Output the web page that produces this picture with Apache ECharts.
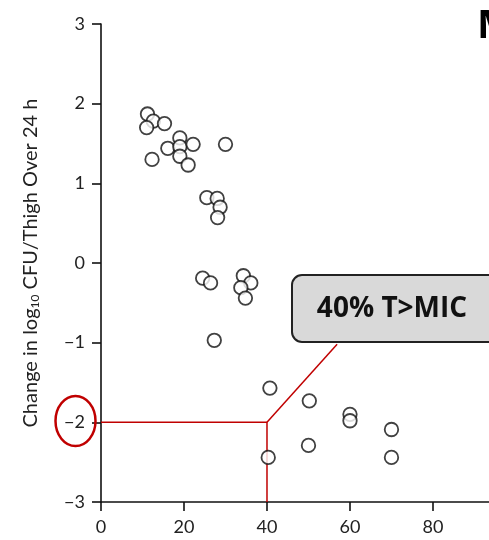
<!DOCTYPE html>
<html><head><meta charset="utf-8">
<script src="https://cdn.jsdelivr.net/npm/echarts@6/dist/echarts.min.js"></script>
<style>html,body{margin:0;padding:0;background:#fff}#c{width:489px;height:540px}</style>
</head><body><div id="c"></div>
<script>
// %T>MIC (x) and change in log10 CFU/thigh over 24 h (y)
var tmic = [11.2,12.6,11.0,15.3,19.0,16.1,19.0,22.2,19.0,21.0,12.3,30.0,25.5,28.0,28.7,28.1,24.5,26.4,34.3,36.1,33.7,34.8,27.3,40.7,50.2,60,60,70,50,40.3,70];
var change = [1.87,1.78,1.70,1.75,1.57,1.44,1.46,1.49,1.34,1.23,1.30,1.49,0.82,0.81,0.70,0.57,-0.19,-0.25,-0.16,-0.25,-0.31,-0.44,-0.97,-1.57,-1.73,-1.90,-1.98,-2.09,-2.29,-2.44,-2.44];
var xTicks = [0,20,40,60,80];
var yTicks = [-3,-2,-1,0,1,2,3];
// annotation: 40% T>MIC -> -2 log kill
var guideX = [0,40,40];
var guideY = [-2,-2,-3];
var leaderX = [40,56.9];
var leaderY = [-2,-1.02];
var boxLabel = '40% T>MIC';
var yTitle = 'Change in log{s|10} CFU/Thigh Over 24 h';

function pairs(a,b){return a.map(function(v,i){return [v,b[i]];});}
var chart = echarts.init(document.getElementById('c'));
var red = '#c00000';
var fontF = 'Lato';
chart.setOption({
  backgroundColor:'#fff',
  animation:false,
  grid:{left:101,top:24,bottom:38,right:0},
  xAxis:{type:'value',min:0,max:93.5,interval:20,
    axisLine:{onZero:false,lineStyle:{color:'#111',width:1.6}},
    axisTick:{length:9,lineStyle:{color:'#111',width:1.6}},
    axisLabel:{fontFamily:fontF,fontSize:18,color:'#222',margin:16,showMaxLabel:false,
      formatter:function(v){return xTicks.indexOf(v)>=0?String(v):'';}},
    splitLine:{show:false}},
  yAxis:{type:'value',min:-3,max:3,interval:1,
    axisLine:{show:true,onZero:false,lineStyle:{color:'#111',width:1.6}},
    axisTick:{show:true,length:9,lineStyle:{color:'#111',width:1.6}},
    axisLabel:{fontFamily:fontF,fontSize:18,color:'#222',margin:16,
      formatter:function(v){return yTicks.indexOf(v)>=0?String(v).replace('-','\u2212'):'';}},
    splitLine:{show:false},
    name:yTitle,nameLocation:'middle',nameRotate:90,nameGap:60,
    nameTextStyle:{fontFamily:fontF,fontSize:20,color:'#222',
      rich:{s:{fontFamily:fontF,fontSize:12,color:'#222',verticalAlign:'bottom',padding:[8,0,0,0]}}}},
  series:[
    {type:'line',data:pairs(guideX,guideY),symbol:'none',lineStyle:{color:red,width:1.5},z:1,silent:true},
    {type:'line',data:pairs(leaderX,leaderY),symbol:'none',lineStyle:{color:red,width:1.5},z:1,silent:true},
    {type:'scatter',data:pairs(tmic,change),symbol:'circle',symbolSize:13.5,
      itemStyle:{color:'#fff',borderColor:'#111',borderWidth:1.8},z:3}
  ],
  graphic:[
    {type:'rect',shape:{x:292,y:275,width:215,height:67,r:10},
      style:{fill:'#d9d9d9',stroke:'#222',lineWidth:2},z:10},
    {type:'text',x:392,y:309,style:{text:boxLabel,fontFamily:'Open Sans',fontWeight:'bold',fontSize:28,
      fill:'#111',textAlign:'center',textVerticalAlign:'middle'},z:11},
    {type:'ellipse',shape:{cx:75.5,cy:421,rx:20,ry:25},
      style:{fill:'none',stroke:red,lineWidth:2.5},z:10},
    {type:'text',x:477,y:7,style:{text:'M',fontFamily:'Open Sans',fontWeight:'bold',fontSize:40,fill:'#000'},z:10}
  ]
});
</script></body></html>
